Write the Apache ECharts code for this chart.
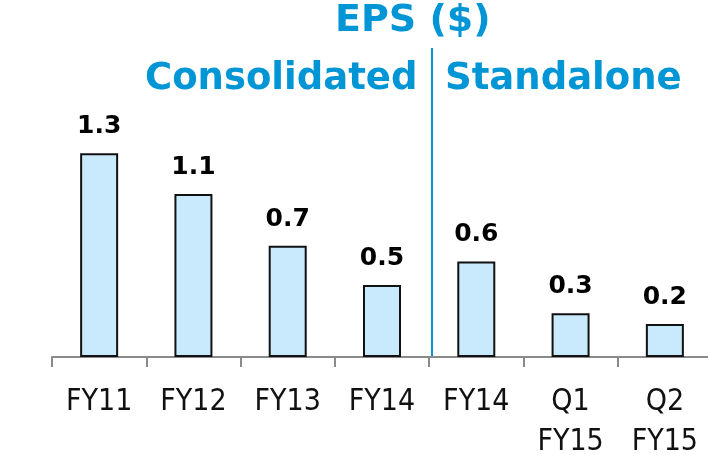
<!DOCTYPE html>
<html>
<head>
<meta charset="utf-8">
<script src="https://cdn.jsdelivr.net/npm/echarts@6/dist/echarts.min.js"></script>
<style>
  html, body { margin: 0; padding: 0; background: #fff; }
  #chart { width: 708px; height: 455px; }
</style>
</head>
<body>
<div id="chart"></div>
<script>
// categories and values
const categories = ['FY11', 'FY12', 'FY13', 'FY14', 'FY14', 'Q1\nFY15', 'Q2\nFY15'];
const epsValues = [1.30, 1.04, 0.71, 0.46, 0.61, 0.28, 0.21];
const epsLabels = ['1.3', '1.1', '0.7', '0.5', '0.6', '0.3', '0.2'];

const BLUE = '#0096d6';
const chart = echarts.init(document.getElementById('chart'));

const option = {
    animation: false,
    backgroundColor: '#fff',
    title: [
        { text: 'EPS ($)', left: 335, top: 2, padding: 0,
          textStyle: { color: BLUE, fontFamily: 'DejaVu Sans', fontWeight: 'bold', fontSize: 38, lineHeight: 38 } },
        { text: 'Consolidated', left: 145, top: 61, padding: 0,
          textStyle: { color: BLUE, fontFamily: 'DejaVu Sans', fontWeight: 'bold', fontSize: 37, lineHeight: 37 } },
        { text: 'Standalone', left: 445, top: 61, padding: 0,
          textStyle: { color: BLUE, fontFamily: 'DejaVu Sans', fontWeight: 'bold', fontSize: 37, lineHeight: 37 } }
    ],
    // no outer-bounds squeeze: labels may run to the page edge like in the original
    grid: { left: 52, right: -4, top: 122, bottom: 98, containLabel: false, outerBoundsMode: 'none' },
    xAxis: {
        type: 'category',
        data: categories,
        axisLine: { lineStyle: { color: '#8a8a8a', width: 2 } },
        axisTick: { show: true, length: 10, lineStyle: { color: '#8a8a8a', width: 2 } },
        axisLabel: {
            color: '#111', fontFamily: 'DejaVu Sans Condensed', fontSize: 30,
            lineHeight: 40, margin: 25, interval: 0
        }
    },
    yAxis: { type: 'value', min: 0, max: 1.5, show: false, splitLine: { show: false } },
    graphic: [
        { type: 'line', shape: { x1: 432, y1: 48, x2: 432, y2: 356 },
          style: { stroke: BLUE, lineWidth: 2 } }
    ],
    series: [{
        type: 'bar',
        data: epsValues,
        barWidth: 38,
        itemStyle: { color: '#c8eafc', borderColor: '#111', borderWidth: 2 },
        label: {
            show: true, position: 'top', distance: 14,
            formatter: p => epsLabels[p.dataIndex],
            color: '#000', fontFamily: 'DejaVu Sans', fontWeight: 'bold',
            fontSize: 25, lineHeight: 25
        }
    }]
};

chart.setOption(option);
</script>
</body>
</html>
